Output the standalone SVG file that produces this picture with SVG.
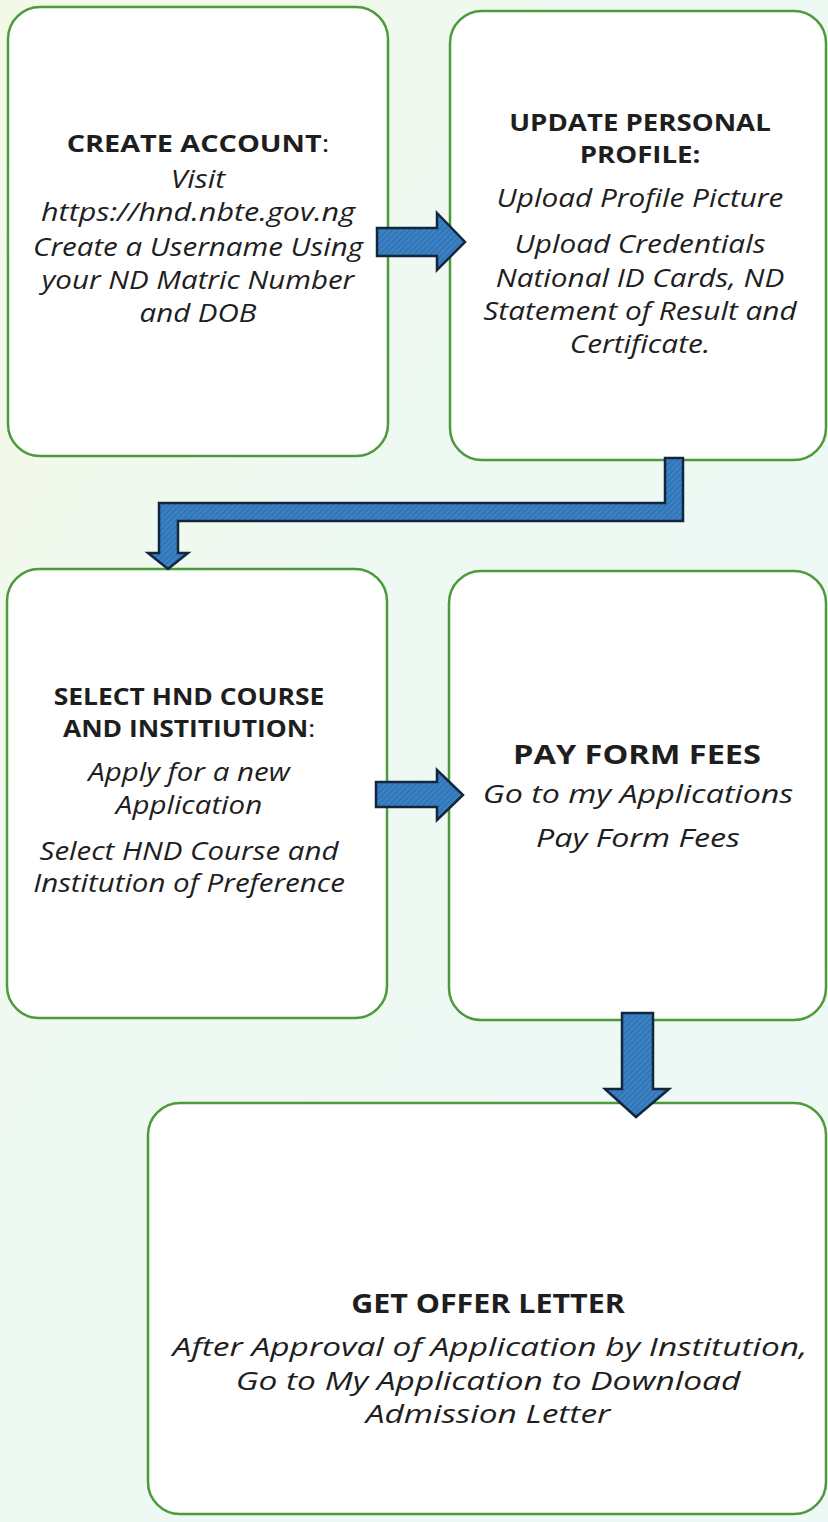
<svg xmlns="http://www.w3.org/2000/svg" width="828" height="1522" viewBox="0 0 828 1522">
<defs>
<linearGradient id="bg" x1="0" y1="0" x2="1" y2="1">
<stop offset="0" stop-color="#f4f9e6"/>
<stop offset="0.4" stop-color="#eef9f3"/>
<stop offset="1" stop-color="#eef8f6"/>
</linearGradient>
<pattern id="hatch" width="4" height="4" patternUnits="userSpaceOnUse" patternTransform="rotate(45)">
<rect width="4" height="4" fill="#3a80c2"/>
<line x1="0" y1="0" x2="0" y2="4" stroke="#2a68a6" stroke-width="1.5"/>
</pattern>
<style>
.box{fill:#ffffff;stroke:#4d9a3a;stroke-width:2.5}
.arr{fill:url(#hatch);stroke:#12263d;stroke-width:2.5;stroke-linejoin:miter}
text{font-family:"Open Sans","Liberation Sans",sans-serif;fill:#1e1e1e;text-anchor:middle}
.h{font-weight:bold;font-size:24px}
.t{font-style:italic;font-size:25px}
.h2{font-weight:bold;font-size:26px}
.t2{font-style:italic;font-size:26px}
.t3{font-style:italic;font-size:25px}
</style>
</defs>
<rect width="828" height="1522" fill="url(#bg)"/>
<g id="node-create-account">
<rect class="box" x="8" y="7" width="380" height="449" rx="32"/>
<text transform="translate(198,152) scale(1.2,1)" class="h">CREATE ACCOUNT<tspan font-weight="normal">:</tspan></text>
<text transform="translate(198,188) scale(1.2,1)" class="t">Visit</text>
<text transform="translate(198,221) scale(1.22,1)" class="t">https://hnd.nbte.gov.ng</text>
<text transform="translate(198,256) scale(1.18,1)" class="t">Create a Username Using</text>
<text transform="translate(198,289) scale(1.18,1)" class="t">your ND Matric Number</text>
<text transform="translate(198,322) scale(1.18,1)" class="t">and DOB</text>
</g>
<g id="node-update-profile">
<rect class="box" x="450" y="11" width="376" height="449" rx="32"/>
<text transform="translate(640,131) scale(1.15,1)" class="h">UPDATE PERSONAL</text>
<text transform="translate(640,163) scale(1.15,1)" class="h">PROFILE:</text>
<text transform="translate(640,207) scale(1.19,1)" class="t">Upload Profile Picture</text>
<text transform="translate(640,253) scale(1.19,1)" class="t">Upload Credentials</text>
<text transform="translate(640,287) scale(1.19,1)" class="t">National ID Cards, ND</text>
<text transform="translate(640,320) scale(1.19,1)" class="t">Statement of Result and</text>
<text transform="translate(640,353) scale(1.19,1)" class="t">Certificate.</text>
</g>
<g id="node-select-course">
<rect class="box" x="7" y="569" width="380" height="449" rx="32"/>
<text transform="translate(189,705) scale(1.1,1)" class="h">SELECT HND COURSE</text>
<text transform="translate(189,737) scale(1.1,1)" class="h">AND INSTITIUTION<tspan font-weight="normal">:</tspan></text>
<text transform="translate(189,781) scale(1.18,1)" class="t">Apply for a new</text>
<text transform="translate(189,814) scale(1.18,1)" class="t">Application</text>
<text transform="translate(189,860) scale(1.18,1)" class="t">Select HND Course and</text>
<text transform="translate(189,892) scale(1.18,1)" class="t">Institution of Preference</text>
</g>
<g id="node-pay-fees">
<rect class="box" x="449" y="571" width="377" height="449" rx="32"/>
<text transform="translate(637,764) scale(1.25,1)" class="h2">PAY FORM FEES</text>
<text transform="translate(638,803) scale(1.24,1)" class="t2">Go to my Applications</text>
<text transform="translate(638,847) scale(1.24,1)" class="t2">Pay Form Fees</text>
</g>
<g id="node-offer-letter">
<rect class="box" x="148" y="1103" width="678" height="411" rx="32"/>
<text transform="translate(488,1313) scale(1.17,1)" class="h2">GET OFFER LETTER</text>
<text transform="translate(490,1356) scale(1.34,1)" class="t3">After Approval of Application by Institution,</text>
<text transform="translate(488,1390) scale(1.34,1)" class="t3">Go to My Application to Download</text>
<text transform="translate(488,1423) scale(1.34,1)" class="t3">Admission Letter</text>
</g>
<g id="connectors">
<path class="arr" d="M377,228 H437 V213 L465,242 L437,270 V256 H377 Z"/>
<path class="arr" d="M665,458 H683 V521 H178 V553 H188 L168,569 L148,553 H159 V503 H665 Z"/>
<path class="arr" d="M376,782 H437 V770 L463,795 L437,820 V807 H376 Z"/>
<path class="arr" d="M622,1013 H653 V1089 H669 L636,1117 L605,1089 H622 Z"/>
</g>
</svg>
